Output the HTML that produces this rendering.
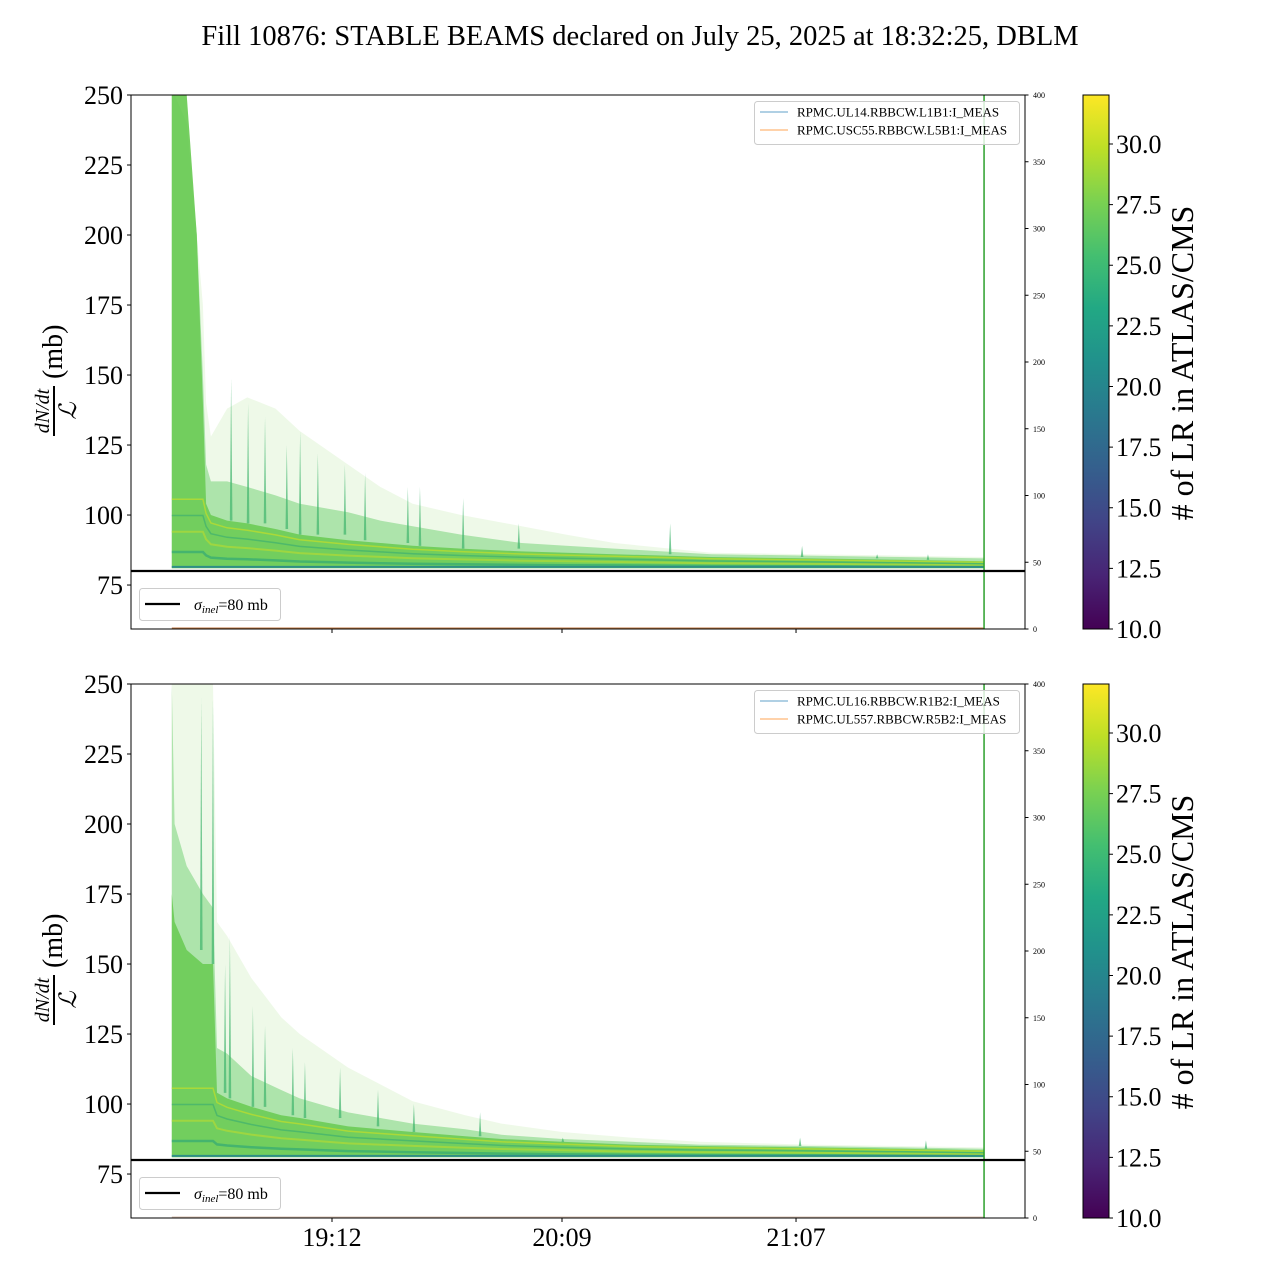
<!DOCTYPE html>
<html><head><meta charset="utf-8">
<style>
html,body{margin:0;padding:0;background:#fff;}
svg{display:block;font-family:"Liberation Serif",serif;}
</style></head>
<body>
<svg id="fig" width="1280" height="1280" viewBox="0 0 1280 1280" xmlns="http://www.w3.org/2000/svg">
<defs>
<linearGradient id="viridis" x1="0" y1="1" x2="0" y2="0">
<stop offset="0" stop-color="#440154"/><stop offset="0.1" stop-color="#482475"/><stop offset="0.2" stop-color="#414487"/><stop offset="0.3" stop-color="#355f8d"/><stop offset="0.4" stop-color="#2a788e"/><stop offset="0.5" stop-color="#21918c"/><stop offset="0.6" stop-color="#22a884"/><stop offset="0.7" stop-color="#44bf70"/><stop offset="0.8" stop-color="#7ad151"/><stop offset="0.9" stop-color="#bddf26"/><stop offset="1" stop-color="#fde725"/>
</linearGradient>
</defs>
<text x="640" y="45" font-size="28.5" text-anchor="middle">Fill 10876: STABLE BEAMS declared on July 25, 2025 at 18:32:25, DBLM</text>
<g id="panels"></g>
</svg>
<script>
// ---- data (time in minutes after 18:00, values in mb) ----
const topTimes   = [32.3, 33, 36, 38.5, 40, 40.8, 42, 46, 51, 58, 64, 76, 84, 92, 104, 119, 130, 142, 166, 190, 213, 233.6];
const topFaint   = [250, 250, 250, 200, 175, 140, 128, 138, 142, 138, 130, 118, 110, 104, 100, 96, 93, 90, 86.5, 86, 85.5, 85];
const topMedium  = [250, 250, 240, 200, 150, 118, 112, 112, 110, 107, 104, 101, 98, 96, 93, 90, 89, 88, 86, 85.5, 85, 84.5];
const topDense   = [250, 250, 250, 200, 140, 104, 100, 98, 97, 95, 93, 91, 90, 89, 88, 87, 86.5, 86, 85, 84.5, 84, 83.5];
const topSpikeT  = [47.0, 51.2, 55.4, 60.8, 64.1, 68.5, 75.2, 80.2, 90.8, 93.8, 104.5, 118.3, 155.8, 188.5, 207.1, 219.7];
const topSpikeV  = [149, 140, 135, 125, 130, 122, 118, 115, 110, 110, 106, 97, 97, 89, 86, 86];

const botTimes   = [32.3, 33, 36, 40, 42.5, 43.5, 46, 52, 59.4, 64, 76, 92, 105, 114, 129, 146, 163, 190, 213, 233.6];
const botFaint   = [250, 250, 250, 250, 250, 165, 160, 145, 131, 125, 113, 101, 96, 93, 90, 88, 86.5, 85.5, 85, 84.5];
const botMedium  = [250, 200, 185, 175, 170, 120, 118, 110, 105, 102, 97, 93, 91, 89, 87.5, 86.5, 85.5, 85, 84.5, 84];
const botDense   = [175, 165, 155, 150, 150, 104, 102, 99, 96, 95, 92, 90, 88.5, 87.5, 86.5, 85.5, 85, 84.5, 84, 83.5];
const botSpikeT  = [39.6, 42.5, 45.5, 46.7, 52.4, 55.4, 62.3, 65.3, 74, 83.4, 92.3, 108.7, 129.2, 188, 219.2];
const botSpikeV  = [245, 245, 150, 160, 135, 128, 120, 115, 113, 105, 100, 97, 88, 88, 87];

const lowerBound = 81;
const sigmaInel  = 80;
const yTicks     = [75, 100, 125, 150, 175, 200, 225, 250];
const rTicks     = [0, 50, 100, 150, 200, 250, 300, 350, 400];
const cbTicks    = [10.0, 12.5, 15.0, 17.5, 20.0, 22.5, 25.0, 27.5, 30.0];
const xTickT     = [72, 129, 187];
const xTickLabels= ["19:12", "20:09", "21:07"];
const legendTop  = ["RPMC.UL14.RBBCW.L1B1:I_MEAS", "RPMC.USC55.RBBCW.L5B1:I_MEAS"];
const legendBot  = ["RPMC.UL16.RBBCW.R1B2:I_MEAS", "RPMC.UL557.RBBCW.R5B2:I_MEAS"];

const NS = "http://www.w3.org/2000/svg";
const panelsG = document.getElementById('panels');
function mk(tag, attrs, parent){
  const e = document.createElementNS(NS, tag);
  for (const k in attrs) e.setAttribute(k, attrs[k]);
  (parent||panelsG).appendChild(e);
  return e;
}
const X0 = 131, X1 = 1025;
function xs(t){ return 332 + (t - 72) * 4.035; }
const tEnd = 233.6;

function panel(top, times, faint, medium, dense, spT, spV, legend, showXLabels, idx){
  const bot = top + 534;
  const ys = v => top + (250 - v) * (534 / (250 - 59.3));
  const clipV = v => Math.min(v, 252);
  const rs = v => bot - v * 534 / 400;
  const g = mk('g', {});
  
  
  const cid = 'clip' + idx;
  const cp = mk('clipPath', {id: cid}, g);
  mk('rect', {x: X0, y: top, width: X1 - X0, height: 534}, cp);
  const plot = mk('g', {'clip-path': 'url(#' + cid + ')'}, g);
  function band(upper, fill, op, name){
    let d = 'M' + xs(times[0]) + ',' + ys(lowerBound);
    for (let i = 0; i < times.length; i++) d += 'L' + xs(times[i]).toFixed(1) + ',' + ys(clipV(upper[i])).toFixed(1);
    d += 'L' + xs(times[times.length-1]) + ',' + ys(lowerBound) + 'Z';
    const p = mk('path', {d: d, fill: fill, 'fill-opacity': op}, plot);
    
    
  }
  band(faint, '#7ad151', 0.13, 'faint-envelope');
  band(medium, '#5ec962', 0.45, 'medium-envelope');
  band(dense, '#6fcc5a', 0.95, 'dense-band');
  // spikes
  for (let i = 0; i < spT.length; i++){
    const x = xs(spT[i]);
    const j = times.findIndex(t => t > spT[i]);
    const base = dense[Math.max(j - 1, 0)];
    const s = mk('path', {d: 'M' + (x - 1.3) + ',' + ys(base) + 'L' + x + ',' + ys(spV[i]) + 'L' + (x + 1.3) + ',' + ys(base) + 'Z', fill: '#3fb56c', 'fill-opacity': 0.7}, plot);
    
    
  }
  // stripes inside dense band
  const stripes = [[0.2, '#3aae72', 2.5], [0.45, '#a9d83a', 2], [0.65, '#45b46d', 1.5], [0.85, '#b8dc30', 1.5]];
  stripes.forEach(st => {
    let d = '';
    for (let i = 0; i < times.length; i++){
      const v = lowerBound + st[0] * (Math.min(dense[i], 110) - lowerBound);
      d += (i ? 'L' : 'M') + xs(times[i]).toFixed(1) + ',' + ys(v).toFixed(1);
    }
    const l = mk('path', {d: d, fill: 'none', stroke: st[1], 'stroke-width': st[2], 'stroke-opacity': 0.8}, plot);
    
    
  });
  const bl = mk('line', {x1: xs(times[0]), x2: xs(tEnd), y1: ys(81.5), y2: ys(81.5), stroke: '#2e8f86', 'stroke-width': 2}, plot);
  
  
  const cl = mk('line', {x1: xs(times[0]), x2: xs(tEnd), y1: rs(0) - 0.5, y2: rs(0) - 0.5, stroke: idx === 0 ? '#c07a45' : '#d8c0b0', 'stroke-width': 2}, plot);
  
  
  const vl = mk('line', {x1: xs(tEnd), x2: xs(tEnd), y1: top, y2: bot, stroke: '#2ca02c', 'stroke-width': 1.5}, g);
  
  
  const sl = mk('line', {x1: X0, x2: X1, y1: ys(sigmaInel), y2: ys(sigmaInel), stroke: '#000', 'stroke-width': 2.2}, g);
  
  
  const fr = mk('rect', {x: X0, y: top, width: X1 - X0, height: 534, fill: 'none', stroke: '#000', 'stroke-width': 1}, g);
  
  
  yTicks.forEach(v => {
    const y = ys(v);
    mk('line', {x1: X0 - 4, x2: X0, y1: y, y2: y, stroke: '#000'}, g);
    const t = mk('text', {x: X0 - 8, y: y + 9, 'font-size': 26, 'text-anchor': 'end'}, g);
    t.textContent = v;
    
    
  });
  rTicks.forEach(v => {
    const y = rs(v);
    mk('line', {x1: X1, x2: X1 + 3.5, y1: y, y2: y, stroke: '#000'}, g);
    const t = mk('text', {x: X1 + 8, y: y + 3, 'font-size': 8}, g);
    t.textContent = v;
    
    
  });
  xTickT.forEach((tt, i) => {
    const x = xs(tt);
    mk('line', {x1: x, x2: x, y1: bot, y2: bot + 4, stroke: '#000'}, g);
    if (showXLabels){
      const t = mk('text', {x: x, y: bot + 28, 'font-size': 26, 'text-anchor': 'middle'}, g);
      t.textContent = xTickLabels[i];
      
      
    }
  });
  // y label
  const yl = mk('g', {transform: 'translate(52,' + (top + 268) + ') rotate(-90)'}, g);
  
  
  const num = mk('text', {x: -48, y: -3, 'font-size': 20, 'font-style': 'italic', 'text-anchor': 'middle'}, yl);
  num.textContent = 'dN/dt';
  mk('line', {x1: -73, x2: -23, y1: 2, y2: 2, stroke: '#000', 'stroke-width': 2}, yl);
  const den = mk('text', {x: -48, y: 24, 'font-size': 24, 'font-style': 'italic', 'text-anchor': 'middle'}, yl);
  den.textContent = 'ℒ';
  const mb = mk('text', {x: -16, y: 10, 'font-size': 28}, yl);
  mb.textContent = '(mb)';
  const lg = mk('g', {}, g);
  
  
  mk('rect', {x: 754.5, y: top + 6.5, width: 265, height: 43, rx: 3, fill: '#fff', 'fill-opacity': 0.8, stroke: '#ccc'}, lg);
  const lc = ['#1f77b4', '#ff7f0e'];
  legend.forEach((s, i) => {
    const y = top + 17 + i * 18;
    mk('line', {x1: 760, x2: 788, y1: y, y2: y, stroke: lc[i], 'stroke-width': 1, 'stroke-opacity': 0.7}, lg);
    const t = mk('text', {x: 797, y: y + 4.5, 'font-size': 13}, lg);
    t.textContent = s;
    
    
  });
  const sg = mk('g', {}, g);
  
  
  mk('rect', {x: 139.5, y: top + 493.5, width: 141, height: 32, rx: 3, fill: '#fff', stroke: '#ccc'}, sg);
  mk('line', {x1: 145, x2: 180, y1: top + 509, y2: top + 509, stroke: '#000', 'stroke-width': 2.2}, sg);
  const st = mk('text', {x: 194, y: top + 515, 'font-size': 16}, sg);
  st.innerHTML = '<tspan font-style="italic">σ</tspan><tspan font-style="italic" font-size="11" dy="3">inel</tspan><tspan dy="-3">=80 mb</tspan>';
  const cb = mk('g', {}, g);
  
  
  mk('rect', {x: 1083, y: top, width: 26, height: 534, fill: 'url(#viridis)', stroke: '#000', 'stroke-width': 1}, cb);
  const cs = v => bot - (v - 10) * 534 / (32.02 - 10);
  cbTicks.forEach(v => {
    const y = cs(v);
    mk('line', {x1: 1109, x2: 1113, y1: y, y2: y, stroke: '#000'}, cb);
    const t = mk('text', {x: 1116, y: y + 9, 'font-size': 26}, cb);
    t.textContent = v.toFixed(1);
    
    
  });
  const ct = mk('text', {transform: 'translate(1193,' + (top + 268) + ') rotate(-90)', 'font-size': 32, 'text-anchor': 'middle'}, cb);
  ct.textContent = '# of LR in ATLAS/CMS';
  
  
}
panel(95, topTimes, topFaint, topMedium, topDense, topSpikeT, topSpikeV, legendTop, false, 0);
panel(684, botTimes, botFaint, botMedium, botDense, botSpikeT, botSpikeV, legendBot, true, 1);
</script>
</body></html>
